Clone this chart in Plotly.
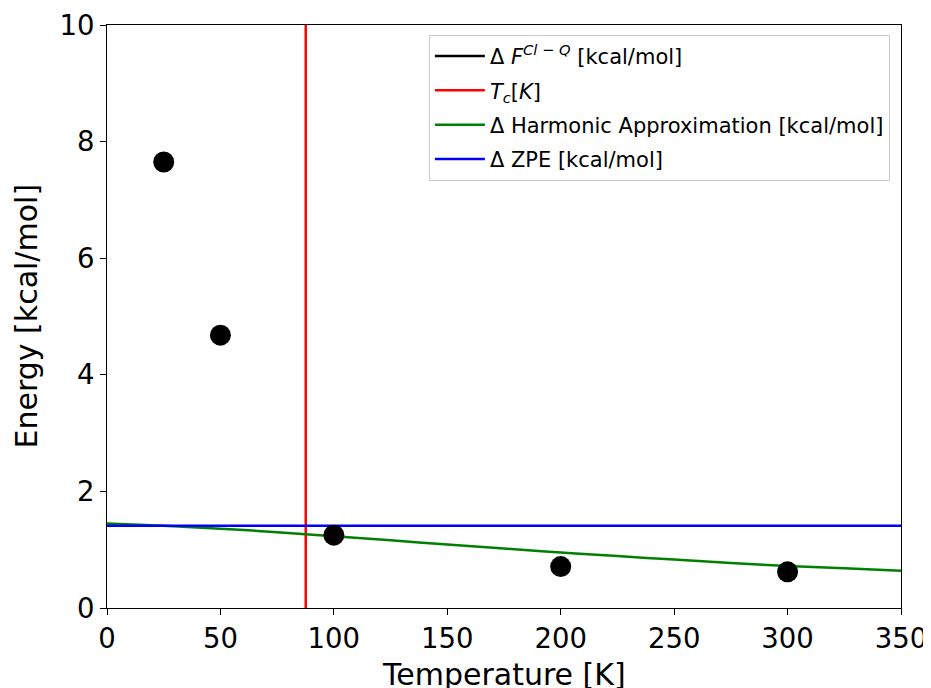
import plotly.graph_objects as go

# Data
temps = [25, 50, 100, 200, 300]
free_energy = [7.65, 4.68, 1.25, 0.71, 0.62]
tc = 87.6
zpe = 1.41
harm_T = [0, 25, 50, 75, 100, 125, 150, 175, 200, 225, 250, 275, 300, 325, 350]
harm_E = [1.45, 1.41, 1.36, 1.30, 1.23, 1.16, 1.09, 1.02, 0.95, 0.89, 0.83, 0.77, 0.72, 0.68, 0.64]
x_ticks = [0, 50, 100, 150, 200, 250, 300, 350]
y_ticks = [0, 2, 4, 6, 8, 10]

font = "DejaVu Sans"
fig = go.Figure()

fig.add_trace(go.Scatter(x=[None], y=[None], mode="lines", legendgroup="a",
                         line=dict(color="black", width=2.5),
                         name="Δ <i>F</i><sup><i>Cl − Q</i></sup> [kcal/mol]"))
fig.add_trace(go.Scatter(x=[tc, tc], y=[0, 10], mode="lines", legendgroup="b",
                         line=dict(color="red", width=2.5),
                         name="<i>T</i><sub><i>c</i></sub>[<i>K</i>]"))
fig.add_trace(go.Scatter(x=harm_T, y=harm_E, mode="lines", line_shape="spline", legendgroup="c",
                         line=dict(color="green", width=2.5),
                         name="Δ Harmonic Approximation [kcal/mol]"))
fig.add_trace(go.Scatter(x=[0, 350], y=[zpe, zpe], mode="lines", legendgroup="d",
                         line=dict(color="blue", width=2.5),
                         name="Δ ZPE [kcal/mol]"))
fig.add_trace(go.Scatter(x=temps, y=free_energy, mode="markers",
                         marker=dict(color="black", size=21),
                         showlegend=False))

axis_common = dict(showgrid=False, zeroline=False, showline=True, linecolor="black",
                   linewidth=1.2, mirror=True, ticks="outside", ticklen=6, automargin=False,
                   tickcolor="black", tickfont=dict(family=font, size=27.5, color="black"))

fig.update_layout(
    width=923, height=680,
    margin=dict(l=99, r=30, t=17, b=80, autoexpand=False),
    paper_bgcolor="white", plot_bgcolor="white",
    font=dict(family=font, color="black"),
    xaxis=dict(range=[0, 350], tickvals=x_ticks, **axis_common),
    yaxis=dict(range=[0, 10], tickvals=y_ticks, **axis_common),
    legend=dict(x=0.986, y=0.983, xanchor="right", yanchor="top",
                bgcolor="rgba(255,255,255,0.8)", bordercolor="#cccccc", borderwidth=1,
                font=dict(family=font, size=21, color="black"),
                itemwidth=50, tracegroupgap=4),
    annotations=[
        dict(text="Temperature [K]", xref="paper", yref="paper", x=0.5, y=0.0, yshift=-66,
             xanchor="center", yanchor="middle", showarrow=False,
             font=dict(family=font, size=30, color="black")),
        dict(text="Energy [kcal/mol]", xref="paper", yref="paper", x=0, xshift=-81, y=0.5,
             xanchor="center", yanchor="middle", textangle=-90, showarrow=False,
             font=dict(family=font, size=30, color="black")),
    ],
)

fig.write_html("out.html")
